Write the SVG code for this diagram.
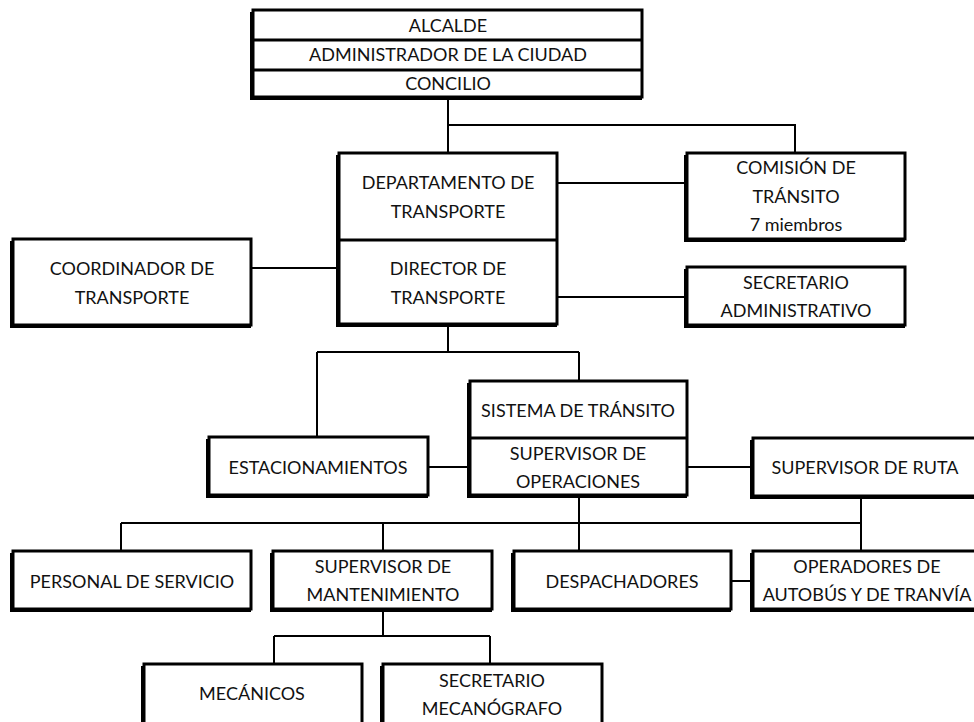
<svg xmlns="http://www.w3.org/2000/svg" width="974" height="722" viewBox="0 0 974 722">
<style>
.sh{fill:#000}
.bx{fill:#fff;stroke:#000;stroke-width:3}
.dv{stroke:#000;stroke-width:3;fill:none}
.ln{stroke:#000;stroke-width:2;fill:none}
text{font-family:Lato,"Open Sans","Liberation Sans",sans-serif;font-size:18px;fill:#111;text-anchor:middle;dominant-baseline:central}
</style>
<rect width="974" height="722" fill="#fff"/>
<g id="connectors">
<path class="ln" d="M448 98V153M448 125H795V153"/>
<path class="ln" d="M557 183H686M557 297H686M251 268H338"/>
<path class="ln" d="M448 325V352M317 352H579M317 352V437M579 352V381"/>
<path class="ln" d="M428 467H469M687 467H752"/>
<path class="ln" d="M579 496V551M861 497V551M121 523H861M121 523V551M383 523V551"/>
<path class="ln" d="M731 581H752"/>
<path class="ln" d="M383 610V636M274 636H490M274 636V664M490 636V664"/>
</g>
<g id="alcalde">
<rect class="sh" x="250" y="12" width="392" height="88"/>
<rect class="bx" x="253" y="10" width="389" height="87"/>
<path class="dv" d="M253 40H642M253 70H642"/>
<text x="448" y="25">ALCALDE</text>
<text x="448" y="54">ADMINISTRADOR DE LA CIUDAD</text>
<text x="448" y="83">CONCILIO</text>
</g>
<g id="departamento">
<rect class="sh" x="336" y="155" width="221" height="172"/>
<rect class="bx" x="339" y="153" width="218" height="171"/>
<path class="dv" d="M339 240H557"/>
<text x="448" y="182">DEPARTAMENTO DE</text>
<text x="448" y="211">TRANSPORTE</text>
<text x="448" y="268">DIRECTOR DE</text>
<text x="448" y="297">TRANSPORTE</text>
</g>
<g id="comision">
<rect class="sh" x="684" y="155" width="221" height="87"/>
<rect class="bx" x="687" y="153" width="218" height="86"/>
<text x="796" y="167">COMISIÓN DE</text>
<text x="796" y="196">TRÁNSITO</text>
<text x="796" y="224">7 miembros</text>
</g>
<g id="coordinador">
<rect class="sh" x="10" y="241" width="241" height="87"/>
<rect class="bx" x="13" y="239" width="238" height="86"/>
<text x="132" y="268">COORDINADOR DE</text>
<text x="132" y="297">TRANSPORTE</text>
</g>
<g id="secretario-admin">
<rect class="sh" x="684" y="269" width="221" height="59"/>
<rect class="bx" x="687" y="267" width="218" height="58"/>
<text x="796" y="282">SECRETARIO</text>
<text x="796" y="310">ADMINISTRATIVO</text>
</g>
<g id="sistema">
<rect class="sh" x="467" y="383" width="220" height="115"/>
<rect class="bx" x="470" y="381" width="217" height="114"/>
<path class="dv" d="M470 438H687"/>
<text x="578" y="410">SISTEMA DE TRÁNSITO</text>
<text x="578" y="453">SUPERVISOR DE</text>
<text x="578" y="481">OPERACIONES</text>
</g>
<g id="estacionamientos">
<rect class="sh" x="206" y="439" width="222" height="59"/>
<rect class="bx" x="209" y="437" width="219" height="58"/>
<text x="318" y="467">ESTACIONAMIENTOS</text>
</g>
<g id="supervisor-ruta">
<rect class="sh" x="750" y="440" width="230" height="59"/>
<rect class="bx" x="753" y="438" width="227" height="58"/>
<text x="865" y="467">SUPERVISOR DE RUTA</text>
</g>
<g id="personal">
<rect class="sh" x="10" y="553" width="241" height="59"/>
<rect class="bx" x="13" y="551" width="238" height="58"/>
<text x="132" y="581">PERSONAL DE SERVICIO</text>
</g>
<g id="mantenimiento">
<rect class="sh" x="270" y="553" width="222" height="59"/>
<rect class="bx" x="273" y="551" width="219" height="58"/>
<text x="383" y="566">SUPERVISOR DE</text>
<text x="383" y="594">MANTENIMIENTO</text>
</g>
<g id="despachadores">
<rect class="sh" x="511" y="553" width="220" height="59"/>
<rect class="bx" x="514" y="551" width="217" height="58"/>
<text x="622" y="581">DESPACHADORES</text>
</g>
<g id="operadores">
<rect class="sh" x="750" y="553" width="230" height="59"/>
<rect class="bx" x="753" y="551" width="227" height="58"/>
<text x="867" y="566">OPERADORES DE</text>
<text x="867" y="594">AUTOBÚS Y DE TRANVÍA</text>
</g>
<g id="mecanicos">
<rect class="sh" x="141" y="666" width="221" height="60"/>
<rect class="bx" x="144" y="664" width="218" height="62"/>
<text x="252" y="693">MECÁNICOS</text>
</g>
<g id="secretario-mecanografo">
<rect class="sh" x="380" y="666" width="222" height="60"/>
<rect class="bx" x="383" y="664" width="219" height="62"/>
<text x="492" y="680">SECRETARIO</text>
<text x="492" y="708">MECANÓGRAFO</text>
</g>
</svg>
